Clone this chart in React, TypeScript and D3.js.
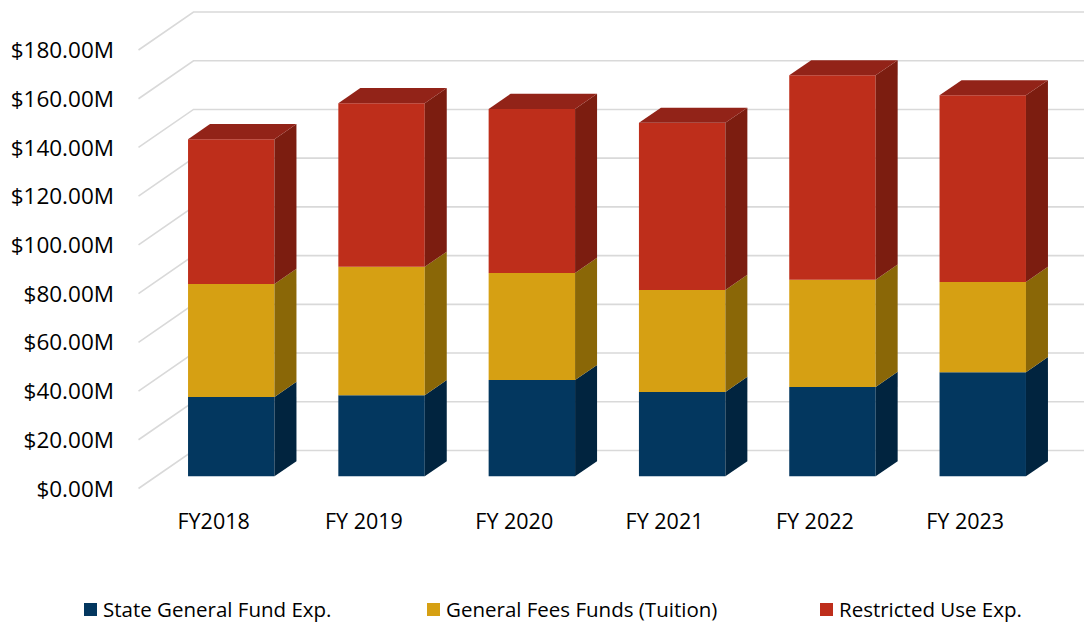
import React from "react";
import * as d3 from "d3";

const categories = ["FY2018", "FY 2019", "FY 2020", "FY 2021", "FY 2022", "FY 2023"];
const stateGeneralFund = [32.6, 33.3, 39.5, 34.6, 36.7, 42.7];
const generalFees = [46.4, 52.7, 44.0, 41.9, 44.0, 37.1];
const restrictedUse = [59.4, 67.2, 67.3, 68.6, 83.9, 76.6];
const seriesNames = ["State General Fund Exp.", "General Fees Funds (Tuition)", "Restricted Use Exp."];
const yTicks = [0, 20, 40, 60, 80, 100, 120, 140, 160, 180];

const COLORS = [
  { front: "#03375f", side: "#01243f", top: "#022a4a" },
  { front: "#d6a013", side: "#8a6707", top: "#a67b0c" },
  { front: "#be2e1b", side: "#7c1d10", top: "#922318" },
];

const W = 1084;
const H = 624;
const DX = 55;
const DY = 38;
const ZF = 0.32;
const ZB = 0.72;
const FONT = "'Open Sans', 'Liberation Sans', sans-serif";

export default function App() {
  const y = d3.scaleLinear().domain([0, 180]).range([488.5, 50]);
  const x = d3.scaleBand<string>().domain(categories).range([138.5, 1040.3]).padding(0);
  const barW = x.bandwidth() * 0.575;

  const series = [stateGeneralFund, generalFees, restrictedUse];
  const stackData = categories.map((c, i) => {
    const obj: any = { cat: c };
    series.forEach((s, k) => (obj["s" + k] = s[i]));
    return obj;
  });
  const stacked = d3.stack().keys(["s0", "s1", "s2"])(stackData as any);

  const pt = (px: number, v: number, z: number) => [px + z * DX, y(v) - z * DY];
  const poly = (pts: number[][]) => pts.map((p) => p.join(",")).join(" ");

  const legendItems = [
    { sq: 84, tx: 103 },
    { sq: 427, tx: 446 },
    { sq: 820, tx: 839 },
  ];

  return (
    <svg width={W} height={H} style={{ position: "absolute", left: 0, top: 0, background: "#fff" }}>
      <defs>
        <clipPath id="clip">
          <rect x={0} y={0} width={W} height={H} />
        </clipPath>
      </defs>
      <g stroke="#d9d9d9" strokeWidth={1.6} fill="none" clipPath="url(#clip)">
        {yTicks.map((t) => {
          const a = pt(138.5, t, 0);
          const b = pt(138.5, t, 1);
          const c = pt(1040.3, t, 1);
          return <polyline key={t} points={poly([a, b, c])} />;
        })}
      </g>
      <g fontFamily={FONT} fontSize={22.5} fill="#000" textAnchor="end">
        {yTicks.map((t) => (
          <text key={t} x={114} y={y(t)} dy="0.36em">
            {"$" + t.toFixed(2) + "M"}
          </text>
        ))}
      </g>
      {categories.map((c, i) => {
        const cx = (x(c) as number) + x.bandwidth() / 2;
        const xl = cx - barW / 2;
        const xr = cx + barW / 2;
        return (
          <g key={c}>
            {stacked.map((layer, k) => {
              const v0 = layer[i][0];
              const v1 = layer[i][1];
              const col = COLORS[k];
              const front = [pt(xl, v0, ZF), pt(xr, v0, ZF), pt(xr, v1, ZF), pt(xl, v1, ZF)];
              const side = [pt(xr, v0, ZF), pt(xr, v0, ZB), pt(xr, v1, ZB), pt(xr, v1, ZF)];
              const top = [pt(xl, v1, ZF), pt(xl, v1, ZB), pt(xr, v1, ZB), pt(xr, v1, ZF)];
              return (
                <g key={k}>
                  <polygon points={poly(front)} fill={col.front} />
                  <polygon points={poly(side)} fill={col.side} />
                  {k === stacked.length - 1 && <polygon points={poly(top)} fill={col.top} />}
                </g>
              );
            })}
          </g>
        );
      })}
      <g fontFamily={FONT} fontSize={21.5} fill="#000" textAnchor="middle">
        {categories.map((c) => (
          <text key={c} x={(x(c) as number) + x.bandwidth() / 2} y={521} dy="0.36em">
            {c}
          </text>
        ))}
      </g>
      <g fontFamily={FONT} fontSize={20.5} fill="#000">
        {seriesNames.map((n, k) => (
          <g key={n}>
            <rect x={legendItems[k].sq} y={603} width={13} height={13} fill={COLORS[k].front} />
            <text x={legendItems[k].tx} y={610} dy="0.36em">
              {n}
            </text>
          </g>
        ))}
      </g>
    </svg>
  );
}
